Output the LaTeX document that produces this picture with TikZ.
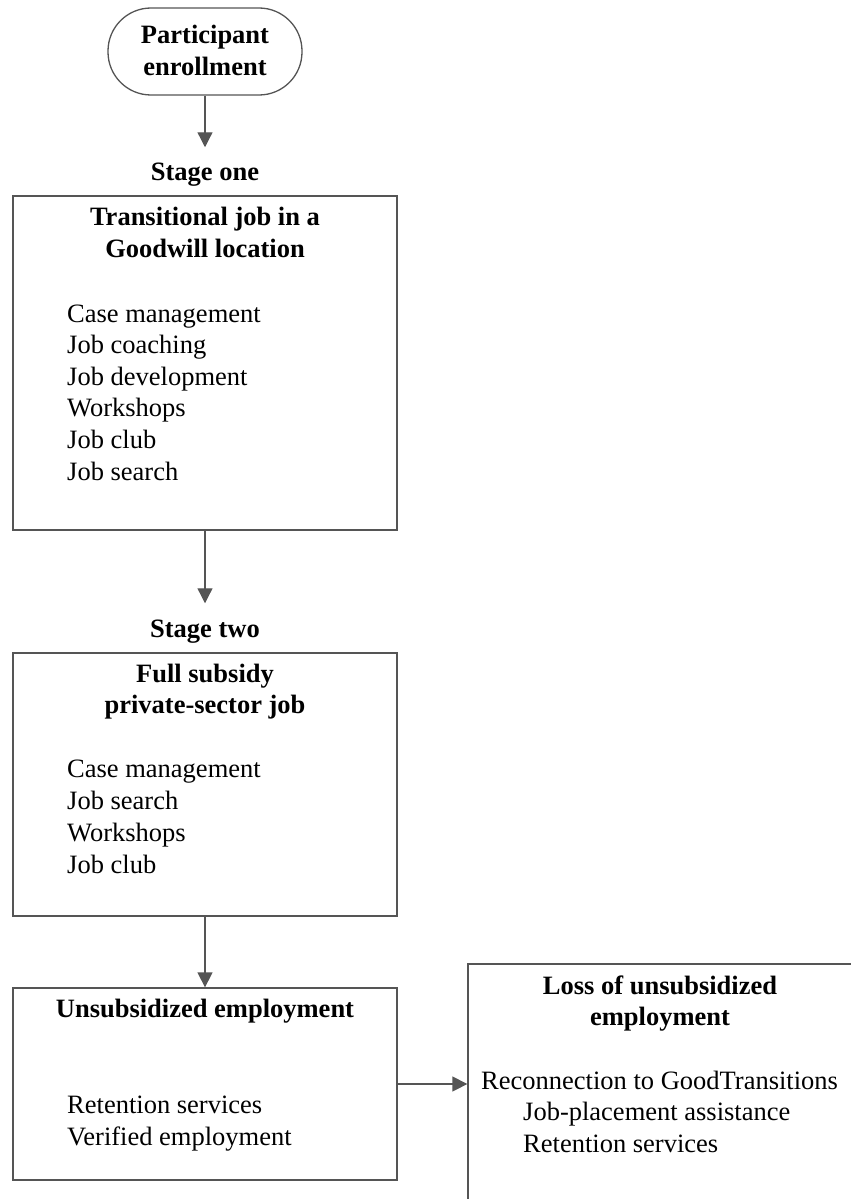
\documentclass[tikz,border=0pt]{standalone}
\usepackage{fontspec}
\setmainfont{Liberation Serif}
\usetikzlibrary{arrows.meta}
\definecolor{linegray}{HTML}{555555}
\tikzset{
  box/.style={draw=linegray, line width=1.3pt, rectangle, inner sep=0pt},
  term/.style={draw=linegray, line width=1.3pt, rectangle, rounded corners=43pt, inner sep=0pt,
    minimum width=194pt, minimum height=87pt},
  ttl/.style={font=\fontsize{26.5}{32}\selectfont\bfseries, inner sep=0pt, anchor=base},
  item/.style={font=\fontsize{26.5}{32}\selectfont, inner sep=0pt, anchor=base west},
  conn/.style={draw=linegray, line width=1.3pt, -{Triangle[length=15pt,width=15pt]}},
}
\begin{document}
\begin{tikzpicture}[x=1pt, y=-1pt]
\useasboundingbox (0,0) rectangle (851,1199);
\clip (0,0) rectangle (851,1199);
% start terminal
\node[term] (start) at (205,51.5) {};
\node[ttl] (st1) at (205,44) {Participant};
\node[ttl] (st2) at (205,75) {enrollment};
% stage one
\node[ttl] (s1) at (205,180) {Stage one};
\node[box, minimum width=384pt, minimum height=334pt] (box1) at (205,363) {};
\node[ttl] (t11) at (205,225) {Transitional job in a};
\node[ttl] (t12) at (205,257) {Goodwill location};
\foreach \t [count=\i] in {Case management, Job coaching, Job development, Workshops, Job club, Job search}
  \node[item] (a\i) at (67,{322+(\i-1)*31.6}) {\t};
% stage two
\node[ttl] (s2) at (205,637) {Stage two};
\node[box, minimum width=384pt, minimum height=263pt] (box2) at (205,784.5) {};
\node[ttl] (t21) at (205,682) {Full subsidy};
\node[ttl] (t22) at (205,713) {private-sector job};
\foreach \t [count=\i] in {Case management, Job search, Workshops, Job club}
  \node[item] (b\i) at (67,{777+(\i-1)*32}) {\t};
% unsubsidized
\node[box, minimum width=384pt, minimum height=192pt] (box3) at (205,1084) {};
\node[ttl] (t31) at (205,1017) {Unsubsidized employment};
\node[item] (c1) at (67,1113) {Retention services};
\node[item] (c2) at (67,1145) {Verified employment};
% loss box (cut by the page edge)
\node[box, minimum width=412pt, minimum height=266pt] (loss) at (674,1097) {};
\node[ttl] (t41) at (660,994) {Loss of unsubsidized};
\node[ttl] (t42) at (660,1025) {employment};
\node[item] (d1) at (481,1089) {Reconnection to GoodTransitions};
\node[item] (d2) at (523,1120) {Job-placement assistance};
\node[item] (d3) at (523,1152) {Retention services};
% connectors
\draw[conn, shorten >=15pt] (start.south) -- (s1.north);
\draw[conn, shorten >=16pt] (box1.south) -- (s2.north);
\draw[conn] (box2.south) -- (box3.north);
\draw[conn] (box3.east) -- (box3.east -| loss.west);
\end{tikzpicture}
\end{document}
